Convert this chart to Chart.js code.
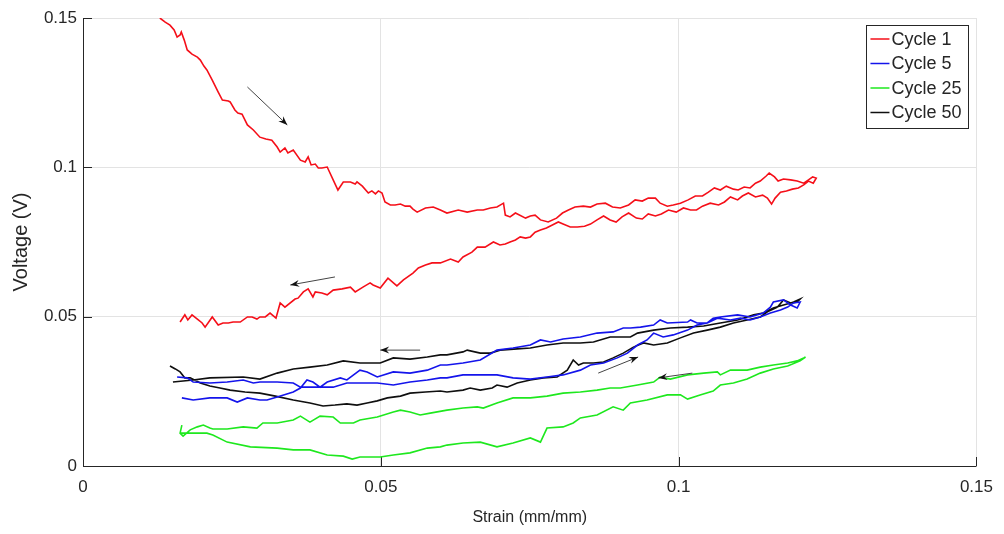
<!DOCTYPE html>
<html>
<head>
<meta charset="utf-8">
<script src="https://cdn.jsdelivr.net/npm/chart.js@4.4.0/dist/chart.umd.min.js"></script>
<style>
  body { margin: 0; background: #fff; }
  #wrap { width: 1004px; height: 534px; }
</style>
</head>
<body>
<div id="wrap"><canvas id="voltageChart" width="1004" height="534"></canvas></div>
<script>
// tick labels (MATLAB style, no trailing zeros)
const xTickLabels = ['0', '0.05', '0.1', '0.15'];
const yTickLabels = ['0', '0.05', '0.1', '0.15'];
const seriesLabels = ['Cycle 1', 'Cycle 5', 'Cycle 25', 'Cycle 50'];

// Cycle 1 : loading branch (left -> right) then unloading branch (right -> left)
const cycle1LoadX = [0.0129,0.0138,0.0146,0.0153,0.0158,0.0163,0.0165,0.0170,0.0175,0.0183,
  0.0192,0.0197,0.0203,0.0208,0.0217,0.0227,0.0234,0.0244,0.0247,0.0255,
  0.0260,0.0267,0.0276,0.0286,0.0297,0.0307,0.0317,0.0326,0.0331,0.0339,
  0.0344,0.0353,0.0365,0.0373,0.0378,0.0383,0.0390,0.0395,0.0401,0.0410,
  0.0420,0.0428,0.0437,0.0449,0.0457,0.0460,0.0469,0.0479,0.0485,0.0491,
  0.0496,0.0502,0.0507,0.0516,0.0524,0.0533,0.0541,0.0549,0.0554,0.0561,
  0.0575,0.0588,0.0600,0.0611,0.0630,0.0645,0.0662,0.0672,0.0684,0.0695,
  0.0706,0.0709,0.0717,0.0726,0.0743,0.0751,0.0759,0.0768,0.0781,0.0795,
  0.0805,0.0815,0.0826,0.0840,0.0852,0.0863,0.0877,0.0889,0.0902,0.0916,
  0.0927,0.0939,0.0949,0.0961,0.0969,0.0981,0.0991,0.1003,0.1016,0.1028,
  0.1040,0.1050,0.1060,0.1070,0.1080,0.1092,0.1100,0.1110,0.1120,0.1129,
  0.1137,0.1147,0.1152,0.1161,0.1167,0.1176,0.1188,0.1199,0.1210,0.1218,
  0.1225,0.1231];
const cycle1LoadY = [0.1500,0.1486,0.1476,0.1460,0.1436,0.1443,0.1453,0.1426,0.1393,0.1379,
  0.1369,0.1359,0.1339,0.1326,0.1292,0.1252,0.1225,0.1222,0.1219,0.1192,
  0.1182,0.1178,0.1142,0.1125,0.1101,0.1095,0.1091,0.1068,0.1051,0.1065,
  0.1048,0.1058,0.1024,0.1018,0.1035,0.1008,0.1011,0.0998,0.0998,0.1001,
  0.0958,0.0924,0.0951,0.0951,0.0944,0.0951,0.0937,0.0914,0.0921,0.0911,
  0.0921,0.0914,0.0884,0.0874,0.0874,0.0877,0.0870,0.0870,0.0860,0.0850,
  0.0864,0.0867,0.0857,0.0847,0.0857,0.0850,0.0857,0.0857,0.0864,0.0867,
  0.0880,0.0840,0.0834,0.0847,0.0830,0.0837,0.0840,0.0824,0.0817,0.0830,
  0.0847,0.0857,0.0867,0.0870,0.0867,0.0877,0.0880,0.0867,0.0864,0.0874,
  0.0891,0.0887,0.0897,0.0897,0.0880,0.0870,0.0874,0.0880,0.0891,0.0904,
  0.0904,0.0917,0.0931,0.0924,0.0937,0.0927,0.0924,0.0934,0.0931,0.0947,
  0.0954,0.0971,0.0981,0.0968,0.0954,0.0961,0.0958,0.0954,0.0947,0.0958,
  0.0968,0.0964];
const cycle1UnloadX = [0.1226,0.1218,0.1210,0.1201,0.1191,0.1181,0.1171,0.1162,0.1156,0.1149,
  0.1141,0.1129,0.1117,0.1107,0.1099,0.1087,0.1077,0.1067,0.1053,0.1040,
  0.1030,0.1020,0.1008,0.0996,0.0983,0.0971,0.0961,0.0949,0.0939,0.0929,
  0.0916,0.0905,0.0895,0.0885,0.0874,0.0863,0.0852,0.0842,0.0830,0.0818,
  0.0806,0.0798,0.0788,0.0778,0.0768,0.0759,0.0751,0.0743,0.0734,0.0726,
  0.0717,0.0709,0.0700,0.0689,0.0675,0.0662,0.0653,0.0638,0.0630,0.0617,
  0.0600,0.0586,0.0575,0.0563,0.0554,0.0538,0.0527,0.0512,0.0499,0.0487,
  0.0482,0.0470,0.0457,0.0449,0.0435,0.0420,0.0410,0.0401,0.0390,0.0386,
  0.0378,0.0370,0.0361,0.0356,0.0339,0.0331,0.0324,0.0314,0.0306,0.0297,
  0.0292,0.0284,0.0276,0.0264,0.0252,0.0244,0.0235,0.0227,0.0217,0.0205,
  0.0200,0.0192,0.0183,0.0176,0.0171,0.0163];
const cycle1UnloadY = [0.0947,0.0954,0.0941,0.0931,0.0927,0.0921,0.0917,0.0897,0.0877,0.0897,
  0.0907,0.0901,0.0914,0.0904,0.0891,0.0901,0.0884,0.0874,0.0880,0.0870,
  0.0857,0.0857,0.0864,0.0850,0.0857,0.0844,0.0837,0.0844,0.0827,0.0830,
  0.0847,0.0834,0.0817,0.0824,0.0837,0.0824,0.0810,0.0803,0.0800,0.0800,
  0.0810,0.0817,0.0807,0.0797,0.0790,0.0783,0.0767,0.0763,0.0767,0.0757,
  0.0750,0.0743,0.0740,0.0750,0.0733,0.0733,0.0716,0.0700,0.0683,0.0693,
  0.0680,0.0680,0.0673,0.0663,0.0646,0.0623,0.0603,0.0629,0.0596,0.0606,
  0.0613,0.0599,0.0583,0.0599,0.0593,0.0589,0.0573,0.0579,0.0583,0.0566,
  0.0593,0.0583,0.0562,0.0559,0.0532,0.0546,0.0495,0.0512,0.0499,0.0499,
  0.0492,0.0499,0.0499,0.0482,0.0482,0.0479,0.0479,0.0472,0.0499,0.0465,
  0.0479,0.0492,0.0506,0.0489,0.0506,0.0482];

// Cycle 5
const cycle5LoadX = [0.0158,0.0175,0.0185,0.0213,0.0242,0.0269,0.0286,0.0297,0.0326,0.0353,
  0.0365,0.0386,0.0398,0.0420,0.0443,0.0465,0.0494,0.0521,0.0549,0.0578,
  0.0600,0.0611,0.0638,0.0667,0.0695,0.0722,0.0751,0.0779,0.0806,0.0835,
  0.0852,0.0874,0.0897,0.0914,0.0931,0.0947,0.0958,0.0974,0.0991,0.1015,
  0.1031,0.1048,0.1065,0.1087,0.1104,0.1120,0.1137,0.1154,0.1171,0.1183,
  0.1193,0.1204];
const cycle5LoadY = [0.0298,0.0295,0.0281,0.0278,0.0281,0.0288,0.0278,0.0281,0.0281,0.0278,
  0.0264,0.0264,0.0264,0.0264,0.0278,0.0278,0.0278,0.0271,0.0281,0.0288,
  0.0295,0.0295,0.0305,0.0305,0.0305,0.0295,0.0291,0.0298,0.0305,0.0321,
  0.0338,0.0345,0.0362,0.0378,0.0405,0.0422,0.0445,0.0432,0.0439,0.0455,
  0.0472,0.0479,0.0495,0.0489,0.0495,0.0489,0.0499,0.0512,0.0522,0.0532,
  0.0546,0.0549];
const cycle5UnloadX = [0.1199,0.1188,0.1176,0.1159,0.1154,0.1142,0.1120,0.1099,0.1070,0.1058,
  0.1048,0.1031,0.1020,0.1015,0.0981,0.0969,0.0958,0.0936,0.0919,0.0907,
  0.0890,0.0863,0.0835,0.0806,0.0785,0.0768,0.0751,0.0722,0.0695,0.0667,
  0.0638,0.0611,0.0600,0.0578,0.0549,0.0521,0.0494,0.0477,0.0465,0.0443,
  0.0432,0.0410,0.0398,0.0386,0.0376,0.0365,0.0353,0.0326,0.0309,0.0297,
  0.0276,0.0259,0.0242,0.0213,0.0185,0.0166];
const cycle5UnloadY = [0.0529,0.0539,0.0556,0.0549,0.0532,0.0512,0.0499,0.0506,0.0499,0.0495,
  0.0479,0.0479,0.0489,0.0482,0.0479,0.0489,0.0472,0.0465,0.0462,0.0462,
  0.0449,0.0445,0.0432,0.0425,0.0415,0.0422,0.0405,0.0395,0.0388,0.0355,
  0.0345,0.0338,0.0338,0.0321,0.0311,0.0315,0.0298,0.0315,0.0321,0.0288,
  0.0295,0.0281,0.0264,0.0281,0.0288,0.0261,0.0248,0.0231,0.0221,0.0221,
  0.0228,0.0214,0.0228,0.0228,0.0221,0.0228];

// Cycle 25
const cycle25LoadX = [0.0163,0.0185,0.0208,0.0218,0.0242,0.0281,0.0326,0.0353,0.0381,0.0410,
  0.0437,0.0452,0.0465,0.0499,0.0521,0.0549,0.0578,0.0600,0.0611,0.0638,
  0.0667,0.0695,0.0722,0.0751,0.0768,0.0779,0.0806,0.0823,0.0835,0.0863,
  0.0890,0.0907,0.0919,0.0947,0.0981,0.1003,0.1015,0.1036,0.1058,0.1070,
  0.1092,0.1115,0.1137,0.1159,0.1183,0.1204,0.1213];
const cycle25LoadY = [0.0110,0.0110,0.0110,0.0104,0.0080,0.0064,0.0060,0.0054,0.0054,0.0037,
  0.0033,0.0023,0.0030,0.0030,0.0037,0.0044,0.0060,0.0064,0.0070,0.0077,
  0.0080,0.0064,0.0077,0.0094,0.0080,0.0127,0.0131,0.0144,0.0161,0.0171,
  0.0198,0.0187,0.0211,0.0221,0.0238,0.0238,0.0224,0.0238,0.0251,0.0271,
  0.0278,0.0291,0.0311,0.0325,0.0335,0.0352,0.0365];
const cycle25UnloadX = [0.1210,0.1199,0.1183,0.1159,0.1137,0.1115,0.1087,0.1070,0.1065,0.1042,
  0.1015,0.0986,0.0969,0.0958,0.0931,0.0902,0.0885,0.0863,0.0835,0.0806,
  0.0779,0.0751,0.0722,0.0695,0.0672,0.0662,0.0638,0.0611,0.0583,0.0566,
  0.0549,0.0533,0.0521,0.0494,0.0465,0.0454,0.0432,0.0420,0.0398,0.0381,
  0.0365,0.0353,0.0326,0.0302,0.0292,0.0269,0.0242,0.0218,0.0213,0.0202,
  0.0192,0.0180,0.0168,0.0163,0.0166];
const cycle25UnloadY = [0.0362,0.0352,0.0345,0.0338,0.0331,0.0321,0.0321,0.0305,0.0315,0.0311,
  0.0305,0.0291,0.0298,0.0281,0.0271,0.0261,0.0261,0.0254,0.0248,0.0244,
  0.0234,0.0228,0.0228,0.0211,0.0194,0.0198,0.0194,0.0187,0.0177,0.0171,
  0.0181,0.0187,0.0181,0.0164,0.0154,0.0144,0.0144,0.0164,0.0167,0.0147,
  0.0167,0.0154,0.0144,0.0144,0.0127,0.0131,0.0124,0.0124,0.0127,0.0137,
  0.0131,0.0121,0.0100,0.0110,0.0137];

// Cycle 50
const cycle50LoadX = [0.0146,0.0155,0.0163,0.0171,0.0180,0.0197,0.0213,0.0230,0.0247,0.0272,
  0.0297,0.0323,0.0353,0.0381,0.0403,0.0423,0.0443,0.0460,0.0477,0.0494,
  0.0511,0.0533,0.0549,0.0575,0.0600,0.0611,0.0638,0.0650,0.0667,0.0687,
  0.0695,0.0712,0.0729,0.0751,0.0773,0.0796,0.0813,0.0823,0.0832,0.0840,
  0.0857,0.0874,0.0890,0.0907,0.0924,0.0941,0.0958,0.0981,0.1003,0.1025,
  0.1048,0.1070,0.1092,0.1115,0.1137,0.1149,0.1166,0.1176,0.1188,0.1193,
  0.1204];
const cycle50LoadY = [0.0335,0.0325,0.0315,0.0295,0.0295,0.0278,0.0268,0.0261,0.0254,0.0248,
  0.0244,0.0234,0.0221,0.0211,0.0201,0.0204,0.0208,0.0204,0.0211,0.0218,
  0.0228,0.0234,0.0244,0.0248,0.0251,0.0248,0.0254,0.0261,0.0254,0.0261,
  0.0271,0.0264,0.0278,0.0288,0.0295,0.0298,0.0321,0.0355,0.0338,0.0345,
  0.0345,0.0348,0.0362,0.0378,0.0398,0.0412,0.0405,0.0412,0.0429,0.0445,
  0.0455,0.0465,0.0479,0.0489,0.0499,0.0516,0.0532,0.0556,0.0546,0.0549,
  0.0559];
const cycle50UnloadX = [0.1199,0.1188,0.1176,0.1159,0.1142,0.1126,0.1099,0.1070,0.1042,0.1015,
  0.0986,0.0958,0.0931,0.0919,0.0885,0.0857,0.0835,0.0806,0.0779,0.0751,
  0.0729,0.0700,0.0684,0.0667,0.0645,0.0638,0.0611,0.0600,0.0578,0.0549,
  0.0521,0.0499,0.0465,0.0437,0.0410,0.0381,0.0353,0.0326,0.0297,0.0269,
  0.0213,0.0185,0.0151];
const cycle50UnloadY = [0.0549,0.0546,0.0539,0.0529,0.0512,0.0506,0.0489,0.0479,0.0469,0.0465,
  0.0462,0.0455,0.0445,0.0432,0.0432,0.0415,0.0412,0.0412,0.0405,0.0395,
  0.0392,0.0388,0.0378,0.0378,0.0388,0.0382,0.0372,0.0372,0.0365,0.0358,
  0.0362,0.0345,0.0345,0.0352,0.0338,0.0331,0.0325,0.0311,0.0291,0.0298,
  0.0295,0.0288,0.0281];

// direction arrows drawn on the plot (start -> end, in data units)
const arrowStartX = [0.0276, 0.0423, 0.0566, 0.0865, 0.1023];
const arrowStartY = [0.1269, 0.0633, 0.0388, 0.0311, 0.0311];
const arrowEndX   = [0.0343, 0.0348, 0.0499, 0.0932, 0.0966];
const arrowEndY   = [0.1142, 0.0606, 0.0388, 0.0365, 0.0295];

function toPoints(xs, ys) {
  return xs.map((x, i) => ({ x: x, y: ys[i] }));
}

const textColor = '#262626';
const fontFamily = '"Liberation Sans", Arial, sans-serif';

// arrows, axis lines with inward ticks, boxed legend
const matlabLook = {
  id: 'matlabLook',
  beforeDatasetsDraw(chart) {
    const { ctx, chartArea: a, scales } = chart;
    ctx.save();
    ctx.strokeStyle = textColor;
    ctx.lineWidth = 1;
    ctx.beginPath();
    ctx.moveTo(a.left + 0.5, a.top);
    ctx.lineTo(a.left + 0.5, a.bottom + 0.5);
    ctx.lineTo(a.right, a.bottom + 0.5);
    scales.x.ticks.forEach(t => {
      const px = Math.round(scales.x.getPixelForValue(t.value)) + 0.5;
      ctx.moveTo(px, a.bottom);
      ctx.lineTo(px, a.bottom - 9);
    });
    scales.y.ticks.forEach(t => {
      const py = Math.round(scales.y.getPixelForValue(t.value)) + 0.5;
      ctx.moveTo(a.left, py);
      ctx.lineTo(a.left + 9, py);
    });
    ctx.stroke();
    ctx.restore();
  },
  afterDatasetsDraw(chart) {
    const { ctx, chartArea: a, scales } = chart;
    ctx.save();
    // arrows
    ctx.strokeStyle = '#444';
    ctx.fillStyle = '#111';
    ctx.lineWidth = 1;
    arrowStartX.forEach((sx, i) => {
      const x0 = scales.x.getPixelForValue(sx);
      const y0 = scales.y.getPixelForValue(arrowStartY[i]);
      const x1 = scales.x.getPixelForValue(arrowEndX[i]);
      const y1 = scales.y.getPixelForValue(arrowEndY[i]);
      const ang = Math.atan2(y1 - y0, x1 - x0);
      ctx.beginPath();
      ctx.moveTo(x0, y0);
      ctx.lineTo(x1, y1);
      ctx.stroke();
      ctx.beginPath();
      ctx.moveTo(x1, y1);
      ctx.lineTo(x1 - 9 * Math.cos(ang) + 3.5 * Math.sin(ang), y1 - 9 * Math.sin(ang) - 3.5 * Math.cos(ang));
      ctx.lineTo(x1 - 6 * Math.cos(ang), y1 - 6 * Math.sin(ang));
      ctx.lineTo(x1 - 9 * Math.cos(ang) - 3.5 * Math.sin(ang), y1 - 9 * Math.sin(ang) + 3.5 * Math.cos(ang));
      ctx.closePath();
      ctx.fill();
    });

    // legend box
    const boxRight = a.right - 8, boxTop = a.top + 7;
    const boxW = 102, rowH = 24.5, boxH = 4 * rowH + 5;
    const boxLeft = boxRight - boxW;
    ctx.fillStyle = '#fff';
    ctx.fillRect(boxLeft, boxTop, boxW, boxH);
    ctx.strokeStyle = textColor;
    ctx.strokeRect(Math.round(boxLeft) + 0.5, Math.round(boxTop) + 0.5, boxW, boxH);
    ctx.font = '18px ' + fontFamily;
    ctx.textBaseline = 'middle';
    ctx.textAlign = 'left';
    chart.data.datasets.forEach((ds, i) => {
      const ry = boxTop + 14 + i * rowH;
      ctx.strokeStyle = ds.borderColor;
      ctx.lineWidth = 1.5;
      ctx.beginPath();
      ctx.moveTo(boxLeft + 4, ry);
      ctx.lineTo(boxLeft + 23, ry);
      ctx.stroke();
      ctx.fillStyle = textColor;
      ctx.fillText(ds.label, boxLeft + 25, ry + 1);
    });
    ctx.restore();
  }
};

function lineSet(label, color, pts) {
  return {
    label: label,
    data: pts,
    borderColor: color,
    backgroundColor: color,
    borderWidth: 1.6,
    showLine: true,
    pointRadius: 0,
    tension: 0,
    fill: false
  };
}

const config = {
  type: 'scatter',
  data: {
    datasets: [
      lineSet(seriesLabels[0], 'rgb(245,15,25)',
        toPoints(cycle1LoadX.concat(cycle1UnloadX), cycle1LoadY.concat(cycle1UnloadY))),
      lineSet(seriesLabels[1], 'rgb(20,20,235)',
        toPoints(cycle5LoadX.concat(cycle5UnloadX), cycle5LoadY.concat(cycle5UnloadY))),
      lineSet(seriesLabels[2], 'rgb(30,232,30)',
        toPoints(cycle25LoadX.concat(cycle25UnloadX), cycle25LoadY.concat(cycle25UnloadY))),
      lineSet(seriesLabels[3], 'rgb(15,15,15)',
        toPoints(cycle50LoadX.concat(cycle50UnloadX), cycle50LoadY.concat(cycle50UnloadY)))
    ]
  },
  options: {
    responsive: false,
    animation: false,
    devicePixelRatio: 1,
    layout: { padding: { top: 18, right: 27, left: 0, bottom: 0 } },
    plugins: {
      legend: { display: false },
      tooltip: { enabled: false }
    },
    scales: {
      x: {
        type: 'linear',
        min: 0,
        max: 0.15,
        afterFit: s => { s.height = 68; },
        ticks: {
          stepSize: 0.05,
          padding: 11,
          color: textColor,
          font: { family: fontFamily, size: 17 },
          maxRotation: 0,
          callback: (v, i) => xTickLabels[i]
        },
        grid: { color: '#e3e3e3', drawTicks: false },
        border: { display: false },
        title: {
          display: true,
          text: 'Strain (mm/mm)',
          color: textColor,
          font: { family: fontFamily, size: 16 },
          padding: { top: 0, bottom: 7 }
        }
      },
      y: {
        type: 'linear',
        min: 0,
        max: 0.15,
        afterFit: s => { s.width = 83; },
        ticks: {
          stepSize: 0.05,
          padding: 6,
          color: textColor,
          font: { family: fontFamily, size: 17 },
          callback: (v, i) => yTickLabels[i]
        },
        grid: { color: '#e3e3e3', drawTicks: false },
        border: { display: false },
        title: {
          display: true,
          text: 'Voltage (V)',
          color: textColor,
          font: { family: fontFamily, size: 20 },
          padding: { top: 9, bottom: 0 }
        }
      }
    }
  },
  plugins: [matlabLook]
};

const voltageChart = new Chart(document.getElementById('voltageChart'), config);
</script>
</body>
</html>
